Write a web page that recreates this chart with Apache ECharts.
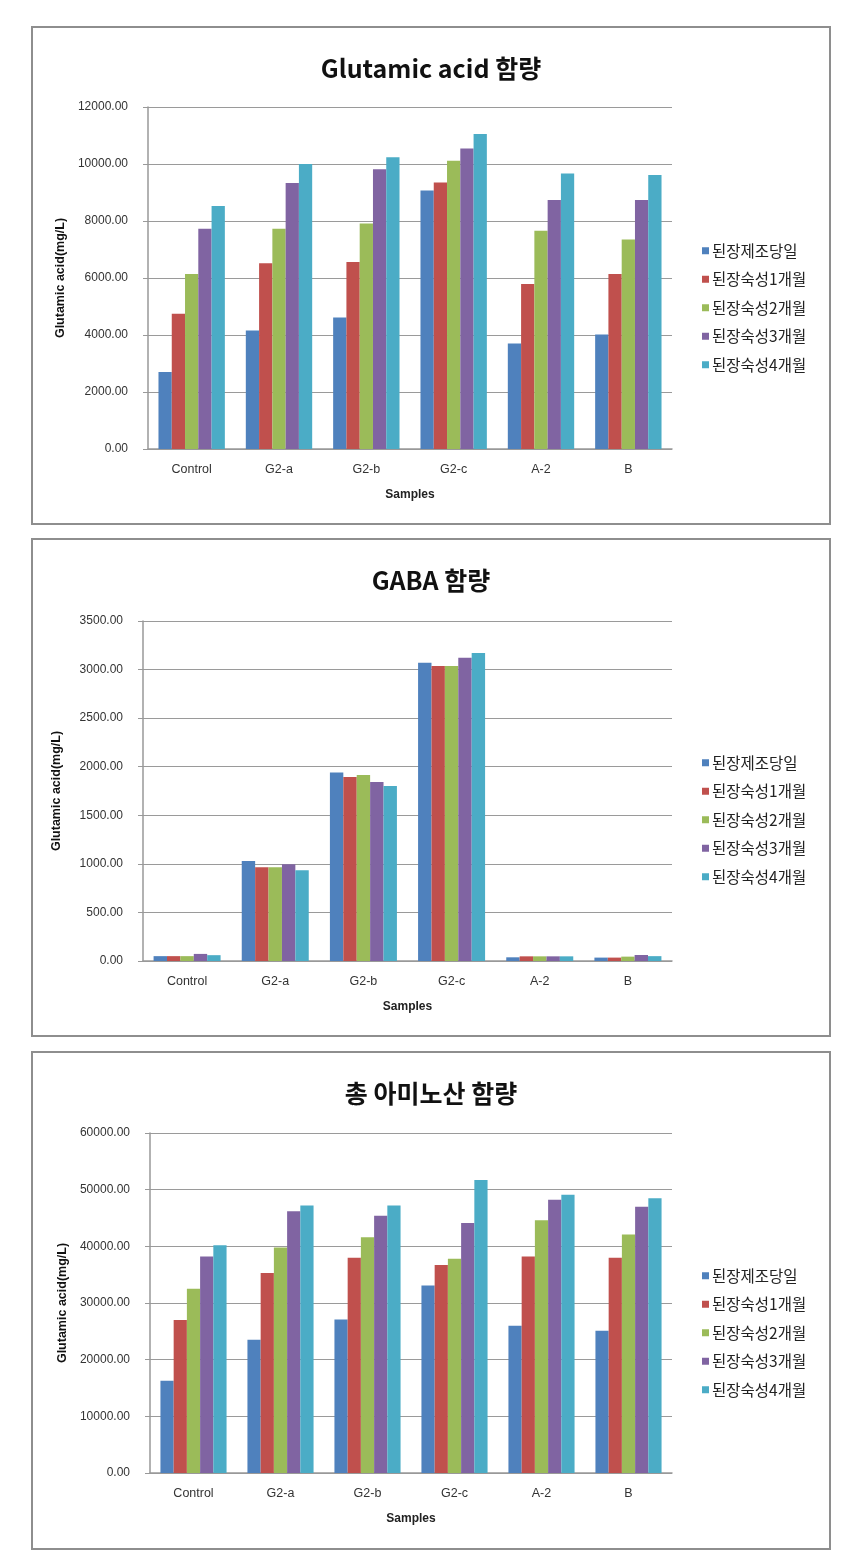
<!DOCTYPE html>
<html>
<head>
<meta charset="utf-8">
<script src="https://cdn.jsdelivr.net/npm/echarts@6/dist/echarts.min.js"></script>
<style>
  html, body { margin: 0; padding: 0; background: #fff; width: 854px; height: 1559px; overflow: hidden; }
  .box { position: absolute; left: 31px; width: 796px; height: 495px; border: 2px solid #8e8e8e; box-sizing: content-box; }
  .chart { width: 796px; height: 495px; }
</style>
</head>
<body>
<div class="box" style="top:26px"><div id="c1" class="chart"></div></div>
<div class="box" style="top:538px"><div id="c2" class="chart"></div></div>
<div class="box" style="top:1051px"><div id="c3" class="chart"></div></div>
<script>
const categories = ['Control', 'G2-a', 'G2-b', 'G2-c', 'A-2', 'B'];
const seriesNames = ['된장제조당일', '된장숙성1개월', '된장숙성2개월', '된장숙성3개월', '된장숙성4개월'];
const colors = ['#4F81BD', '#C0504D', '#9BBB59', '#8064A2', '#4BACC6'];

// Glutamic acid 함량
const glu_day0 = [2700, 4160, 4610, 9070, 3700, 4020];
const glu_m1   = [4750, 6520, 6560, 9350, 5790, 6140];
const glu_m2   = [6140, 7730, 7910, 10110, 7660, 7350];
const glu_m3   = [7730, 9330, 9820, 10540, 8740, 8740];
const glu_m4   = [8530, 10000, 10240, 11050, 9670, 9610];

// GABA 함량
const gaba_day0 = [50, 1030, 1940, 3070, 38, 35];
const gaba_m1   = [50, 965, 1895, 3037, 48, 35];
const gaba_m2   = [50, 965, 1915, 3037, 48, 45];
const gaba_m3   = [73, 995, 1842, 3122, 48, 62];
const gaba_m4   = [60, 933, 1801, 3170, 48, 50];

// 총 아미노산 함량
const total_day0 = [16300, 23500, 27100, 33100, 26000, 25100];
const total_m1   = [27000, 35300, 38000, 36700, 38200, 38000];
const total_m2   = [32500, 39800, 41600, 37800, 44600, 42100];
const total_m3   = [38200, 46200, 45400, 44100, 48200, 47000];
const total_m4   = [40200, 47200, 47200, 51700, 49100, 48500];

const yTicksGlu = { min: 0, max: 12000, interval: 2000 };
const yTicksGaba = { min: 0, max: 3500, interval: 500 };
const yTicksTotal = { min: 0, max: 60000, interval: 10000 };

const FONT = '"Noto Sans CJK KR", "Noto Sans", sans-serif';
const LATIN = '"Liberation Sans", Arial, sans-serif';

function makeOption(title, data, yTicks, grid) {
  return {
    animation: false,
    color: colors,
    title: {
      text: title,
      left: 'center',
      top: 23,
      textStyle: { fontFamily: FONT, fontSize: 25, fontWeight: 'bold', color: '#111' }
    },
    legend: {
      orient: 'vertical',
      left: 664,
      top: 210,
      itemWidth: 7,
      itemHeight: 7,
      itemGap: 13,
      icon: 'rect',
      data: seriesNames,
      textStyle: { fontFamily: FONT, fontSize: 15.5, color: '#222', padding: [0, 0, 0, -2] }
    },
    grid: grid,
    xAxis: {
      type: 'category',
      data: categories,
      name: 'Samples',
      nameLocation: 'middle',
      nameGap: 40,
      nameTextStyle: { fontFamily: LATIN, fontSize: 12, fontWeight: 'bold', color: '#222' },
      axisLine: { lineStyle: { color: '#999', width: 1.5 } },
      axisTick: { show: false },
      axisLabel: { margin: 14, fontFamily: LATIN, fontSize: 12.5, color: '#333' }
    },
    yAxis: {
      type: 'value',
      min: yTicks.min,
      max: yTicks.max,
      interval: yTicks.interval,
      name: 'Glutamic acid(mg/L)',
      nameLocation: 'middle',
      nameGap: 80,
      nameRotate: 90,
      nameTextStyle: { fontFamily: LATIN, fontSize: 12.5, fontWeight: 'bold', color: '#111' },
      axisLine: { show: true, lineStyle: { color: '#999', width: 1.5 } },
      axisTick: { show: true, length: 5, lineStyle: { color: '#999' } },
      splitLine: { lineStyle: { color: '#9a9a9a', width: 1.2 } },
      axisLabel: {
        margin: 20,
        fontFamily: LATIN,
        fontSize: 12,
        color: '#333',
        formatter: v => v.toFixed(2)
      }
    },
    series: seriesNames.map((n, i) => ({
      name: n,
      type: 'bar',
      data: data[i],
      barGap: '0%',
      barCategoryGap: '24%'
    }))
  };
}

echarts.init(document.getElementById('c1')).setOption(makeOption(
  'Glutamic acid 함량',
  [glu_day0, glu_m1, glu_m2, glu_m3, glu_m4],
  yTicksGlu,
  { left: 115, top: 79, width: 524, height: 342 }
));
echarts.init(document.getElementById('c2')).setOption(makeOption(
  'GABA 함량',
  [gaba_day0, gaba_m1, gaba_m2, gaba_m3, gaba_m4],
  yTicksGaba,
  { left: 110, top: 81, width: 529, height: 340 }
));
echarts.init(document.getElementById('c3')).setOption(makeOption(
  '총 아미노산 함량',
  [total_day0, total_m1, total_m2, total_m3, total_m4],
  yTicksTotal,
  { left: 117, top: 80, width: 522, height: 340 }
));
</script>
</body>
</html>
